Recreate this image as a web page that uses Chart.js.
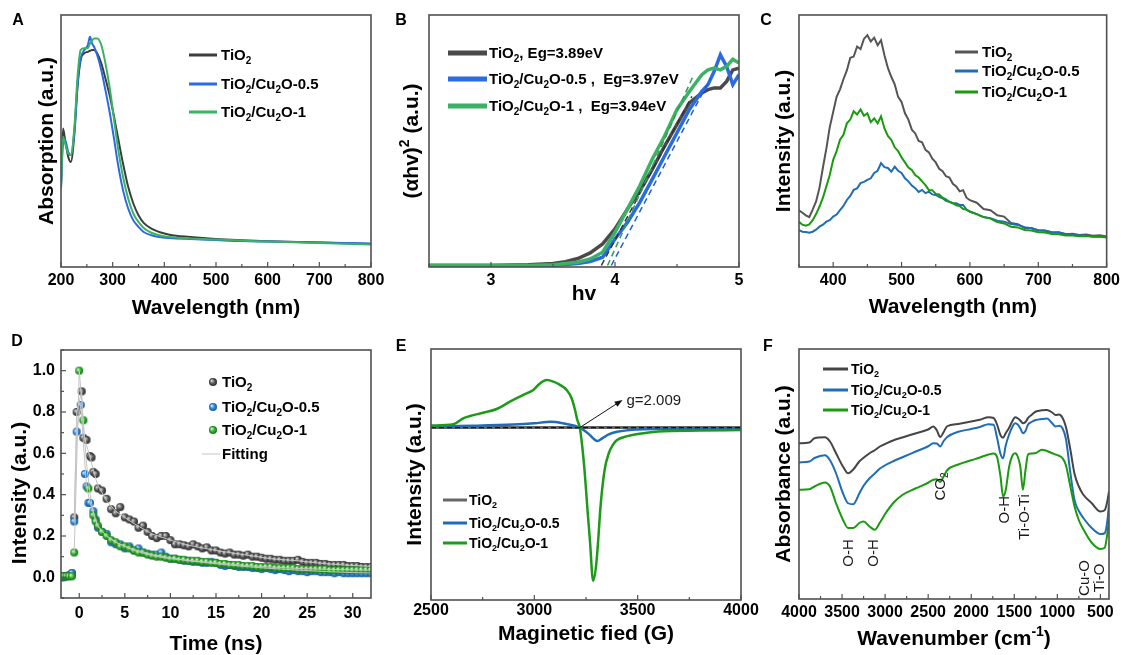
<!DOCTYPE html>
<html>
<head>
<meta charset="utf-8">
<script src="https://cdn.jsdelivr.net/npm/chart.js@4.4.1/dist/chart.umd.min.js"></script>
<style>
  body { margin: 0; background: #fff; width: 1124px; height: 655px; position: relative; overflow: hidden; }
  canvas { position: absolute; }
</style>
</head>
<body>
<script>
const FONT = "'Liberation Sans', Arial, Helvetica, sans-serif";

// ---- A: UV-vis absorption (arb. units, 0-100)
const aWave = [200,204,208,214,219,226,232,238,245,252,256,260,264,270,278,286,294,302,310,320,330,340,350,360,375,390,410,450,500,550,600,700,800];
const aTiO2 = [31.8,55.0,50.3,43.7,41.7,53.0,71.5,82.1,84.8,85.4,85.8,86.1,86.1,84.8,80.8,74.8,68.2,60.3,51.7,41.1,31.8,25.2,20.5,17.5,15.2,13.9,12.8,11.9,11.1,10.6,10.2,9.7,9.1];
const aCu05 = [31.8,49.0,50.3,45.7,44.4,54.3,72.8,82.8,86.1,88.1,91.4,88.7,87.4,84.1,78.1,70.2,61.6,51.7,41.1,30.5,23.2,18.5,15.9,13.9,12.6,11.9,11.5,11.1,10.7,10.3,10.1,9.7,9.3];
const aCu1  = [31.1,51.7,49.0,45.0,44.4,55.6,75.5,86.1,86.8,86.8,88.7,89.8,90.7,90.7,88.1,80.8,71.5,59.6,47.7,35.8,27.2,21.2,17.9,15.5,13.6,12.6,11.9,11.3,10.9,10.5,10.1,9.5,8.9];
const aTicks = [200,300,400,500,600,700,800];

// ---- B: Tauc plot
const bHv   = [2.5,3.0,3.3,3.5,3.6,3.7,3.8,3.9,4.0,4.1,4.2,4.3,4.4,4.5,4.6,4.7,4.75,4.8,4.85,4.9,4.95,5.0];
const bTiO2 = [0,0,0.3,0.8,1.5,2.8,5,8.6,14.6,22.5,29.8,38.4,47.7,56.3,64.9,68.9,70.2,70.9,70.9,73.5,78.1,78.8];
const bCu05 = [0,0,0,0.1,0.4,0.8,1.6,3.3,10.6,17.2,25.2,34.4,43.7,53,62.3,69.5,72.2,77.5,84.1,79.5,72.2,76.2];
const bCu1  = [0,0,0,0.3,0.8,1.3,2.6,5.3,13.2,22.5,31.8,42.4,51.7,62.3,69.5,76.2,78.1,78.8,78.1,79.5,82.3,80.8];
const bTanTiO2X = [3.89, 4.62], bTanTiO2Y = [0, 67.5];
const bTanCu05X = [3.97, 4.77], bTanCu05Y = [0, 74.8];
const bTanCu1X  = [3.94, 4.635], bTanCu1Y  = [0, 76.2];
const bTicks = [3,4,5];

// ---- C: PL spectra
const cWave = [350,355,360,365,370,375,380,385,390,395,400,405,410,415,420,425,430,435,440,445,450,455,460,465,470,475,480,485,490,495,500,505,510,515,520,525,530,535,540,545,550,555,560,565,570,575,580,585,590,595,600,610,620,630,640,650,660,670,680,690,700,710,720,730,740,750,760,770,780,790,800];
const cTiO2 = [22.5,21.5,20.5,19.8,22.8,26.0,31.5,39.5,47.0,55.5,61.5,67.5,70.5,74.5,78.0,83.0,83.5,87.5,86.5,90.5,92.0,89.5,91.0,88.0,90.0,84.0,79.0,75.5,72.5,67.5,65.5,61.0,58.5,54.5,53.0,50.0,49.5,46.5,45.5,43.0,41.5,39.0,38.0,36.0,35.5,33.0,32.0,30.0,30.5,27.5,26.5,25.5,23.0,22.5,20.5,20.0,17.5,17.0,15.5,15.5,14.5,14.5,13.7,13.8,13.0,13.2,12.7,12.9,12.4,12.6,12.1];
const cCu05 = [14.6,14.0,13.9,13.6,14.0,14.8,16.0,16.8,18.0,18.6,20.0,20.8,22.6,24.2,26.6,28.2,30.6,31.2,33.3,33.8,34.6,35.2,37.3,38.2,41.2,39.6,39.3,37.8,39.8,38.2,37.3,35.2,34.0,32.3,31.3,29.8,30.6,29.3,29.9,28.8,28.6,27.8,27.3,26.3,25.9,25.3,25.3,24.6,24.6,22.8,22.0,21.0,19.8,19.4,18.4,18.0,17.1,16.7,15.8,15.4,14.6,14.4,13.8,13.7,13.1,13.0,12.5,12.5,12.1,12.1,11.9];
const cCu1  = [17.9,16.8,16.4,16.9,18.6,21.0,24.0,27.5,32.0,36.5,42.5,46.0,50.5,52.5,57.0,58.5,61.8,60.5,62.5,60.0,61.0,57.5,59.0,57.0,59.8,55.0,52.0,50.5,47.5,46.0,43.5,41.5,39.5,38.5,36.5,35.5,34.0,32.5,30.5,30.5,29.0,28.8,27.5,26.8,25.8,25.3,24.5,24.2,23.0,22.8,21.9,21.0,19.8,19.2,17.8,17.3,16.0,15.7,14.7,14.5,13.8,13.7,13.1,13.0,12.5,12.5,12.2,12.3,12.0,12.0,11.7];
const cTicks = [400,500,600,700,800];

// ---- D: TRPL decay
const dTime = [-2,-1.7,-1.4,-1.1,-0.8,-0.55,-0.28,0.0,0.16,0.27,0.45,0.62,0.8,1.0,1.18,1.35,1.55,1.8,2.05,
  2.5,3,3.5,4,4.5,5,5.5,6,6.5,7,7.5,8,8.5,9,9.5,10,10.5,11,11.5,12,12.5,13,13.5,14,14.5,15,15.5,16,16.5,17,17.5,18,18.5,19,19.5,20,20.5,21,21.5,22,22.5,23,23.5,24,24.5,25,25.5,26,26.5,27,27.5,28,28.5,29,29.5,30,30.5,31,31.5,32];
const dTiO2 = [0.005,0.005,0.005,0.01,0.02,0.29,0.80,null,null,0.90,0.675,null,0.665,null,0.587,0.58,0.51,0.50,0.43,
  0.42,0.38,0.33,0.31,0.34,0.29,0.28,0.27,0.24,0.25,0.22,0.20,0.19,0.20,0.20,0.18,0.16,0.16,0.155,0.15,0.16,0.15,0.14,0.145,0.13,0.13,0.12,0.115,0.12,0.11,0.11,0.105,0.11,0.10,0.10,0.095,0.09,0.09,0.085,0.085,0.08,0.08,0.08,0.085,0.075,0.07,0.07,0.07,0.065,0.065,0.06,0.06,0.06,0.06,0.055,0.055,0.055,0.05,0.05,0.05];
const dCu05 = [0.0,0.0,0.005,0.01,0.02,0.27,0.705,null,0.834,null,null,0.50,0.44,0.36,0.36,null,0.32,0.28,0.24,
  0.22,0.21,0.17,0.16,0.16,0.14,0.15,0.13,0.14,0.12,0.115,0.11,0.11,0.12,0.10,0.09,0.09,0.085,0.08,0.08,0.075,0.075,0.07,0.07,0.075,0.07,0.06,0.055,0.06,0.055,0.05,0.05,0.05,0.045,0.045,0.04,0.045,0.04,0.035,0.04,0.035,0.03,0.035,0.03,0.03,0.025,0.03,0.03,0.025,0.025,0.025,0.02,0.025,0.02,0.02,0.02,0.02,0.02,0.02,0.02];
const dCu1  = [0.005,0.005,0.005,0.005,0.005,0.12,null,1.0,null,null,0.76,null,null,0.43,null,null,0.30,0.27,0.25,
  0.22,0.20,0.18,0.17,0.15,0.15,0.14,0.13,0.12,0.12,0.11,0.105,0.10,0.10,0.095,0.09,0.09,0.085,0.085,0.08,0.08,0.08,0.075,0.075,0.07,0.07,0.065,0.065,0.06,0.06,0.06,0.055,0.055,0.055,0.05,0.05,0.05,0.05,0.045,0.045,0.045,0.045,0.045,0.04,0.04,0.04,0.04,0.04,0.04,0.04,0.035,0.035,0.035,0.035,0.035,0.035,0.035,0.035,0.035,0.035];
const dFitT    = [-0.55,-0.28,0.0,0.16,0.27,0.45,0.8,1.2,1.6,2,3,4,5,6,8,10,12,15,18,21,24,27,30,32];
const dFitTiO2 = [0.29,0.80,null,null,0.90,0.70,0.64,0.58,0.51,0.45,0.37,0.32,0.29,0.26,0.21,0.18,0.155,0.13,0.11,0.09,0.08,0.066,0.057,0.053];
const dFitCu05 = [0.27,0.705,null,0.834,null,null,0.44,0.36,0.31,0.25,0.20,0.17,0.15,0.135,0.11,0.095,0.08,0.066,0.053,0.043,0.035,0.028,0.023,0.021];
const dFitCu1  = [0.12,null,1.0,null,null,0.76,0.55,0.40,0.30,0.25,0.20,0.17,0.15,0.13,0.105,0.09,0.082,0.07,0.058,0.05,0.043,0.039,0.036,0.035];
const dTicksX = [0,5,10,15,20,25,30];
const dTicksY = [0,0.2,0.4,0.6,0.8,1.0];

// ---- E: EPR
const eTiO2X = [2500, 4000], eTiO2Y = [68.7, 68.7];
const eCu05X = [2500,2700,2900,3000,3080,3150,3200,3220,3260,3290,3305,3330,3360,3400,3450,3500,3600,4000];
const eCu05Y = [69.1,69.4,69.9,70.4,71.0,70.2,69.3,68.7,66.4,64.0,63.3,64.5,66.0,67.0,67.6,67.9,68.1,68.3];
const eCu1X = [2500,2608,2656,2689,2753,2818,2882,2947,2995,3027,3060,3092,3124,3156,3181,3197,3208,3220,3240,3260,3270,3280,3285,3300,3310,3320,3340,3360,3380,3400,3450,3500,3600,3800,4000];
const eCu1Y = [69.5,70,72.4,73.3,74.6,76.1,79,81.7,83.7,86.3,87.6,87,85.7,83.7,80.3,75.7,71.7,68.7,54.4,33,22.6,10,7.7,14.6,25,37,51.8,58.4,61.8,63.7,65.3,66.1,67.1,67.5,67.7];
const eTicks = [2500,3000,3500,4000];

// ---- F: FTIR
const fWave = [4000,3880,3820,3700,3640,3570,3490,3430,3370,3300,3250,3180,3120,3060,3000,2900,2800,2650,2500,2440,2400,2360,2320,2280,2150,2000,1900,1800,1740,1700,1660,1630,1600,1560,1520,1490,1460,1430,1400,1370,1340,1300,1250,1180,1120,1060,1020,980,940,900,850,800,750,700,600,500,450,420,400];
const fTiO2 = [62.3,62.6,64.3,64.7,63,58.3,53,50.3,51.8,55,56.5,58.3,59.5,61,62,63.5,64.6,66.2,67.8,69,67.5,64.8,66.8,69.1,70,71,71.7,72.7,72.4,69.8,65.5,64.5,66.3,68.5,71.3,72.7,72.3,71.4,70.3,70.8,72.4,73.6,75,75.5,75.6,74.6,73.6,73.8,72.5,68.8,60,50,45,41.8,38.3,35,35.5,39,43];
const fCu05 = [54.6,55,56.4,57.5,55.5,50.3,42.3,38.3,37.9,42.2,45.3,48.3,50.2,52.2,53.5,55.2,56.7,58.9,61.1,62.3,62.2,61,63.2,64.8,66.9,68,68.8,69.9,69.7,64.5,58,56.3,61.3,65.8,69,70.3,69.8,68.3,66.3,67.2,69.8,70.8,71.6,72,72.2,70.3,69,69.3,68.3,64,50.8,39.5,35.2,32.5,28.4,26,26.3,31,38];
const fCu1  = [43.7,43.9,45,46.6,45,38.3,31.7,28.4,28.4,30.4,31,29,27.7,30.6,34,38.6,41.6,44.2,46.5,47.7,47.9,46.8,49,51.5,53.8,55.5,56.6,57.8,58.2,56.8,49,41,43.5,52.8,57.5,58.3,57,53,43.7,51.5,57.8,58.2,58.4,59.7,59.2,58.3,57.8,57.3,56.3,53.5,45.2,37,31.5,28,22.5,20,20.5,26,32];
const fTicks = [4000,3500,3000,2500,2000,1500,1000,500];
const fBands = ['O-H','O-H','CO₂','O-H','Ti-O-Ti','Cu-O','Ti-O'];
const fBandX = [3436, 3147, 2372, 1619, 1388, 694, 520];
const fBandY = [18.4, 18.4, 45, 35.7, 32.8, 8.4, 8.4];

const L_TIO2 = 'TiO₂', L_05 = 'TiO₂/Cu₂O-0.5', L_1 = 'TiO₂/Cu₂O-1';

function pts(xs, ys) {
  return xs.map((x, i) => ({ x: x, y: ys[i] })).filter(p => p.y !== null);
}

function line(label, xs, ys, color, width, extra) {
  return Object.assign({
    label: label, data: pts(xs, ys), borderColor: color, backgroundColor: color,
    borderWidth: width, pointRadius: 0, fill: false, tension: 0
  }, extra || {});
}

function makeBall(light, base, dark) {
  const r = 4, c = document.createElement('canvas');
  c.width = c.height = 2 * r + 2;
  const g = c.getContext('2d');
  const grd = g.createRadialGradient(r - 0.5, r - 0.5, 0.3, r + 1, r + 1, r);
  grd.addColorStop(0, light);
  grd.addColorStop(0.55, base);
  grd.addColorStop(1, dark);
  g.fillStyle = grd;
  g.beginPath(); g.arc(r + 1, r + 1, r, 0, Math.PI * 2); g.fill();
  return c;
}

// text with unicode sub/superscripts drawn as real small glyphs
const SUB = { '₂': '2' }, SUP = { '²': '2', '⁻': '-', '¹': '1' };
function richText(ctx, s, x, y, size, weight, align) {
  const parts = [];
  for (const ch of s) {
    let kind = 'n', c = ch;
    if (SUB[ch]) { kind = 'sub'; c = SUB[ch]; }
    else if (SUP[ch]) { kind = 'sup'; c = SUP[ch]; }
    const last = parts[parts.length - 1];
    if (last && last.kind === kind) last.t += c; else parts.push({ kind: kind, t: c });
  }
  const font = k => weight + ' ' + (k === 'n' ? size : Math.round(size * 0.66)) + 'px ' + FONT;
  let w = 0;
  parts.forEach(p => { ctx.font = font(p.kind); p.w = ctx.measureText(p.t).width; w += p.w; });
  let cx = align === 'center' ? x - w / 2 : align === 'right' ? x - w : x;
  ctx.textAlign = 'left';
  ctx.textBaseline = 'alphabetic';
  parts.forEach(p => {
    ctx.font = font(p.kind);
    const dy = p.kind === 'sub' ? size * 0.22 : p.kind === 'sup' ? -size * 0.4 : 0;
    ctx.fillText(p.t, cx, y + dy);
    cx += p.w;
  });
}
function rotText(ctx, s, cx, cy, size, weight) {
  ctx.save();
  ctx.translate(cx, cy);
  ctx.rotate(-Math.PI / 2);
  richText(ctx, s, 0, size * 0.36, size, weight, 'center');
  ctx.restore();
}

function inwardTicks(ctx, ca, scale, horiz) {
  const vals = scale.ticks.map(t => t.value);
  const minor = [];
  for (let i = 0; i < vals.length - 1; i++) minor.push((vals[i] + vals[i + 1]) / 2);
  if (vals.length > 1) {
    const st = vals[1] - vals[0];
    minor.push(vals[0] - st / 2, vals[vals.length - 1] + st / 2);
  }
  const lo = Math.min(scale.min, scale.max), hi = Math.max(scale.min, scale.max);
  const mark = (v, len) => {
    if (v < lo - 1e-9 || v > hi + 1e-9) return;
    const p = scale.getPixelForValue(v);
    ctx.beginPath();
    if (horiz) { ctx.moveTo(p, ca.bottom); ctx.lineTo(p, ca.bottom - len); }
    else { ctx.moveTo(ca.left, p); ctx.lineTo(ca.left + len, p); }
    ctx.stroke();
  };
  vals.forEach(v => mark(v, 5));
  minor.forEach(v => mark(v, 3));
}

function drawDecor(chart, d, box) {
  const ctx = chart.ctx, ca = chart.chartArea;
  const sx = chart.scales.x, sy = chart.scales.y;
  const X = v => sx.getPixelForValue(v), Y = v => sy.getPixelForValue(v);
  ctx.save();
  ctx.setLineDash([]);
  ctx.strokeStyle = '#505050';
  ctx.lineWidth = 1.2;
  inwardTicks(ctx, ca, sx, true);
  if (d.yTicks) inwardTicks(ctx, ca, sy, false);
  ctx.lineWidth = 1.6;
  ctx.strokeRect(ca.left, ca.top, ca.right - ca.left, ca.bottom - ca.top);

  ctx.fillStyle = '#000';
  richText(ctx, d.letter[0], d.letter[1] - box.x, d.letter[2] - box.y + 5.8, 16, 'bold', 'center');
  richText(ctx, d.xTitle, (ca.left + ca.right) / 2, d.xTitleY - box.y + 7.5, 21, 'bold', 'center');
  rotText(ctx, d.yTitle, d.yTitleX - box.x, d.yTitleY ? d.yTitleY - box.y : (ca.top + ca.bottom) / 2, 21, 'bold');

  const L = d.legend;
  L.items.forEach((idx, k) => {
    const ds = chart.data.datasets[idx];
    const y = L.ys[k] - box.y;
    if (ds.showLine === false) {
      const im = ds.pointStyle;
      ctx.drawImage(im, L.mx - box.x - im.width / 2, y - im.height / 2);
    } else {
      ctx.strokeStyle = ds.borderColor;
      ctx.lineWidth = ds.legendWidth || L.lw;
      ctx.beginPath(); ctx.moveTo(L.x0 - box.x, y); ctx.lineTo(L.x1 - box.x, y); ctx.stroke();
    }
    ctx.fillStyle = '#000';
    richText(ctx, ds.label, L.tx - box.x, y + L.size * 0.36, L.size, 'bold', 'left');
  });

  (d.notes || []).forEach(n => {
    ctx.fillStyle = '#1a1a1a';
    if (n.rot) rotText(ctx, n.t, X(n.x), Y(n.y), n.size, 'normal');
    else richText(ctx, n.t, X(n.x), Y(n.y) + n.size * 0.36, n.size, 'normal', 'left');
  });

  if (d.arrow) {
    const a = d.arrow;
    const x1 = X(a[0]), y1 = Y(a[1]), x2 = X(a[2]), y2 = Y(a[3]);
    const ang = Math.atan2(y2 - y1, x2 - x1);
    ctx.strokeStyle = '#111'; ctx.fillStyle = '#111'; ctx.lineWidth = 1;
    ctx.beginPath(); ctx.moveTo(x1, y1); ctx.lineTo(x2 - 6 * Math.cos(ang), y2 - 6 * Math.sin(ang)); ctx.stroke();
    ctx.beginPath();
    ctx.moveTo(x2, y2);
    ctx.lineTo(x2 - 8 * Math.cos(ang) + 3 * Math.sin(ang), y2 - 8 * Math.sin(ang) - 3 * Math.cos(ang));
    ctx.lineTo(x2 - 8 * Math.cos(ang) - 3 * Math.sin(ang), y2 - 8 * Math.sin(ang) + 3 * Math.cos(ang));
    ctx.closePath(); ctx.fill();
  }
  ctx.restore();
}

function makePanel(box, plot, p) {
  const cv = document.createElement('canvas');
  cv.width = box.w; cv.height = box.h;
  cv.style.left = box.x + 'px'; cv.style.top = box.y + 'px';
  document.body.appendChild(cv);
  const tickFont = { family: FONT, size: 16, weight: 'bold' };
  return new Chart(cv, {
    type: 'line',
    data: { datasets: p.datasets },
    options: {
      responsive: false, animation: false, events: [],
      layout: { padding: { left: 0, top: plot.T - box.y, right: box.x + box.w - plot.R, bottom: 0 } },
      plugins: { legend: { display: false }, tooltip: { enabled: false } },
      scales: {
        x: {
          type: 'linear', min: p.x.min, max: p.x.max, reverse: !!p.x.reverse,
          grid: { display: false, drawTicks: false }, border: { display: false },
          ticks: { font: tickFont, color: '#000', padding: p.x.pad, maxRotation: 0, autoSkip: false,
                   callback: v => String(v) },
          afterBuildTicks: s => { s.ticks = p.x.ticks.map(v => ({ value: v })); },
          afterFit: s => { s.height = box.y + box.h - plot.B; }
        },
        y: {
          type: 'linear', min: p.y.min, max: p.y.max,
          grid: { display: false, drawTicks: false }, border: { display: false },
          ticks: { display: !!p.y.ticks, font: tickFont, color: '#000', padding: p.y.pad || 0, autoSkip: false,
                   callback: v => v.toFixed(1) },
          afterBuildTicks: s => { if (p.y.ticks) s.ticks = p.y.ticks.map(v => ({ value: v })); },
          afterFit: s => { s.width = plot.L - box.x; }
        }
      }
    },
    plugins: [{ id: 'decor', afterDraw: c => drawDecor(c, p.decor, box) }]
  });
}

const smooth = { cubicInterpolationMode: 'monotone' };

// A
makePanel({ x: 0, y: 0, w: 395, h: 325 }, { L: 61, T: 15, R: 371, B: 267 }, {
  x: { min: 200, max: 800, ticks: aTicks, pad: 4 },
  y: { min: 0, max: 100 },
  datasets: [
    line(L_TIO2, aWave, aTiO2, '#3d3d3d', 2, Object.assign({ order: 2 }, smooth)),
    line(L_05, aWave, aCu05, '#2a6be0', 2, Object.assign({ order: 1 }, smooth)),
    line(L_1, aWave, aCu1, '#3bb163', 2, Object.assign({ order: 0 }, smooth))
  ],
  decor: {
    letter: ['A', 18, 19], xTitle: 'Wavelength (nm)', xTitleY: 306, yTitle: 'Absorption (a.u.)', yTitleX: 45,
    legend: { items: [0, 1, 2], x0: 189, x1: 217, tx: 221, ys: [55, 84, 112], size: 15, lw: 3 }
  }
});

// B
makePanel({ x: 375, y: 0, w: 385, h: 325 }, { L: 429, T: 15, R: 739, B: 267 }, {
  x: { min: 2.5, max: 5, ticks: bTicks, pad: 4 },
  y: { min: -0.6, max: 100 },
  datasets: [
    line('TiO₂, Eg=3.89eV', bHv, bTiO2, '#4a4a4a', 3.5, { order: 5 }),
    line('TiO₂/Cu₂O-0.5 ,  Eg=3.97eV', bHv, bCu05, '#2a6be0', 3.5, { order: 4 }),
    line('TiO₂/Cu₂O-1 ,  Eg=3.94eV', bHv, bCu1, '#3cb064', 3.5, { order: 3 }),
    line('', bTanTiO2X, bTanTiO2Y, '#333333', 1.5, { order: 2, borderDash: [6, 4] }),
    line('', bTanCu05X, bTanCu05Y, '#1f5fd6', 1.5, { order: 1, borderDash: [6, 4] }),
    line('', bTanCu1X, bTanCu1Y, '#2e9e52', 1.5, { order: 0, borderDash: [6, 4] })
  ],
  decor: {
    letter: ['B', 401, 19], xTitle: 'hv', xTitleY: 292, yTitle: '(αhv)² (a.u.)', yTitleX: 410,
    legend: { items: [0, 1, 2], x0: 448, x1: 487, tx: 489, ys: [53, 79, 106], size: 15, lw: 5 }
  }
});

// C
makePanel({ x: 750, y: 0, w: 374, h: 325 }, { L: 799, T: 15, R: 1110, B: 267 }, {
  x: { min: 350, max: 800, ticks: cTicks, pad: 4 },
  y: { min: 0, max: 100 },
  datasets: [
    line(L_TIO2, cWave, cTiO2, '#555555', 2, { order: 2 }),
    line(L_05, cWave, cCu05, '#1f6db5', 2, { order: 1 }),
    line(L_1, cWave, cCu1, '#1a9a10', 2, { order: 0 })
  ],
  decor: {
    letter: ['C', 766, 19], xTitle: 'Wavelength (nm)', xTitleY: 305, yTitle: 'Intensity (a.u.)', yTitleX: 782,
    legend: { items: [0, 1, 2], x0: 955, x1: 978, tx: 982, ys: [52, 71, 92], size: 15, lw: 3 }
  }
});

// D
const ballGrey = makeBall('#d8d8d8', '#5a5a5a', '#2a2a2a');
const ballBlue = makeBall('#cfe8ff', '#2f86d6', '#17599b');
const ballGreen = makeBall('#d4f7cc', '#30ae2c', '#177416');
const scat = (label, ys, ball, order) => ({
  label: label, data: pts(dTime, ys), showLine: false, pointStyle: ball, pointRadius: 4,
  borderColor: '#000', backgroundColor: '#000', order: order
});
makePanel({ x: 0, y: 325, w: 395, h: 330 }, { L: 61, T: 350, R: 371, B: 598 }, {
  x: { min: -2, max: 32, ticks: dTicksX, pad: 6 },
  y: { min: -0.1, max: 1.1, ticks: dTicksY, pad: 6 },
  datasets: [
    scat(L_TIO2, dTiO2, ballGrey, 5),
    scat(L_05, dCu05, ballBlue, 4),
    scat(L_1, dCu1, ballGreen, 3),
    line('Fitting', dFitT, dFitTiO2, '#c4c4c4', 1, { order: 2, spanGaps: true, legendWidth: 1 }),
    line('Fitting', dFitT, dFitCu05, '#c4c4c4', 1, { order: 1, spanGaps: true }),
    line('Fitting', dFitT, dFitCu1, '#c4c4c4', 1, { order: 0, spanGaps: true })
  ],
  decor: {
    letter: ['D', 17, 340], xTitle: 'Time (ns)', xTitleY: 642, yTitle: 'Intensity (a.u.)', yTitleX: 18, yTitleY: 493,
    yTicks: true,
    legend: { items: [0, 1, 2, 3], mx: 213, x0: 202, x1: 220, tx: 222, ys: [382, 407, 430, 454], size: 15, lw: 1 }
  }
});

// E
makePanel({ x: 375, y: 325, w: 395, h: 330 }, { L: 431, T: 349, R: 741, B: 600 }, {
  x: { min: 2500, max: 4000, ticks: eTicks, pad: 1 },
  y: { min: 0, max: 100 },
  datasets: [
    line(L_TIO2, eTiO2X, eTiO2Y, '#666666', 3, { order: 3 }),
    line(L_05, eCu05X, eCu05Y, '#1f6db5', 2.5, Object.assign({ order: 2 }, smooth)),
    line(L_1, eCu1X, eCu1Y, '#1d9a1a', 2.5, Object.assign({ order: 1 }, smooth)),
    line('', eTiO2X, eTiO2Y, '#111111', 1.3, { order: 0, borderDash: [5, 3] })
  ],
  decor: {
    letter: ['E', 401, 345], xTitle: 'Maginetic fied (G)', xTitleY: 632, yTitle: 'Intensity (a.u.)', yTitleX: 413,
    legend: { items: [0, 1, 2], x0: 443, x1: 467, tx: 469, ys: [500, 523, 543], size: 14, lw: 3 },
    arrow: [3220, 68.7, 3427, 79.7],
    notes: [{ t: 'g=2.009', x: 3446, y: 79.7, size: 15 }]
  }
});

// F
makePanel({ x: 750, y: 325, w: 374, h: 330 }, { L: 799, T: 349, R: 1109, B: 599 }, {
  x: { min: 400, max: 4000, reverse: true, ticks: fTicks, pad: 4 },
  y: { min: 0, max: 100 },
  datasets: [
    line(L_TIO2, fWave, fTiO2, '#454545', 2, Object.assign({ order: 2 }, smooth)),
    line(L_05, fWave, fCu05, '#1f6db5', 2, Object.assign({ order: 1 }, smooth)),
    line(L_1, fWave, fCu1, '#1a9a10', 2, Object.assign({ order: 0 }, smooth))
  ],
  decor: {
    letter: ['F', 768, 345], xTitle: 'Wavenumber (cm⁻¹)', xTitleY: 637, yTitle: 'Absorbance (a.u.)', yTitleX: 782,
    legend: { items: [0, 1, 2], x0: 823, x1: 848, tx: 851, ys: [369, 390, 410], size: 14, lw: 3 },
    notes: fBands.map((t, i) => ({ t: t, x: fBandX[i], y: fBandY[i], size: 15, rot: true }))
  }
});
</script>
</body>
</html>
